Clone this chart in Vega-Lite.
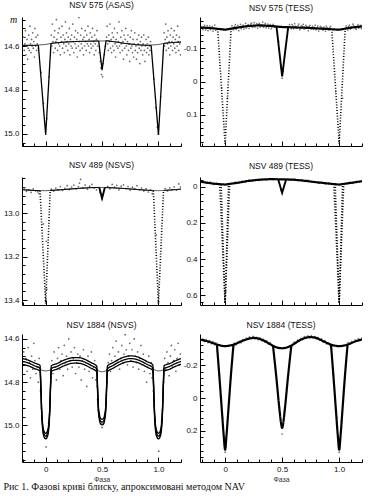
{
"$schema": "https://vega.github.io/schema/vega-lite/v6.json",
"padding": {"left": 3, "top": 0, "right": 0, "bottom": 0},
"background": "white",
"title": {"text": "Рис 1. Фазові криві блиску, апроксимовані методом NAV", "orient": "bottom", "anchor": "start", "font": "Liberation Serif", "fontSize": 10, "fontWeight": "normal", "color": "#111", "offset": 0},
"config": {
  "view": {"stroke": null},
  "axis": {"grid": false, "domainColor": "#000", "tickColor": "#000", "domainWidth": 1, "tickWidth": 1, "labelFont": "Liberation Sans", "labelFontSize": 8, "labelColor": "#111", "labelPadding": 8, "labelOverlap": false, "titleFont": "Liberation Sans", "titleFontSize": 7, "titleFontWeight": "normal", "titleColor": "#333", "titlePadding": 0},
  "title": {"font": "Liberation Sans", "fontSize": 8.5, "fontWeight": "normal", "color": "#111", "offset": 5}
},
"datasets": {
"p1pts": [
{"phase":-0.195,"mag":14.56},{"phase":-0.19,"mag":14.62},{"phase":-0.185,"mag":14.59},{"phase":-0.18,"mag":14.53},{"phase":-0.175,"mag":14.64},{"phase":-0.17,"mag":14.6},{"phase":-0.165,"mag":14.57},{"phase":-0.16,"mag":14.66},{"phase":-0.155,"mag":14.61},{"phase":-0.15,"mag":14.55},{"phase":-0.145,"mag":14.62},{"phase":-0.14,"mag":14.51},{"phase":-0.135,"mag":14.59},{"phase":-0.13,"mag":14.63},{"phase":-0.125,"mag":14.57},{"phase":-0.12,"mag":14.6},{"phase":-0.115,"mag":14.54},{"phase":-0.11,"mag":14.61},{"phase":-0.105,"mag":14.58},{"phase":-0.1,"mag":14.65},{"phase":-0.095,"mag":14.52},{"phase":-0.09,"mag":14.6},{"phase":-0.085,"mag":14.56},{"phase":-0.08,"mag":14.62},{"phase":-0.075,"mag":14.59},{"phase":-0.07,"mag":14.55},{"phase":-0.065,"mag":14.61},
{"phase":-0.04,"mag":14.72},{"phase":-0.02,"mag":14.86},{"phase":0.01,"mag":14.93},{"phase":0.03,"mag":14.74},
{"phase":0.05,"mag":14.55},{"phase":0.055,"mag":14.6},{"phase":0.06,"mag":14.5},{"phase":0.065,"mag":14.58},{"phase":0.07,"mag":14.63},{"phase":0.075,"mag":14.56},{"phase":0.08,"mag":14.53},{"phase":0.085,"mag":14.61},{"phase":0.09,"mag":14.58},{"phase":0.095,"mag":14.48},{"phase":0.1,"mag":14.57},{"phase":0.105,"mag":14.62},{"phase":0.11,"mag":14.54},{"phase":0.115,"mag":14.59},{"phase":0.12,"mag":14.52},{"phase":0.125,"mag":14.6},{"phase":0.13,"mag":14.64},{"phase":0.135,"mag":14.56},{"phase":0.14,"mag":14.58},{"phase":0.145,"mag":14.51},{"phase":0.15,"mag":14.61},{"phase":0.155,"mag":14.55},{"phase":0.16,"mag":14.59},{"phase":0.165,"mag":14.63},{"phase":0.17,"mag":14.57},{"phase":0.175,"mag":14.49},{"phase":0.18,"mag":14.6},{"phase":0.185,"mag":14.54},{"phase":0.19,"mag":14.58},{"phase":0.195,"mag":14.62},{"phase":0.2,"mag":14.56},{"phase":0.205,"mag":14.59},{"phase":0.21,"mag":14.52},{"phase":0.215,"mag":14.64},{"phase":0.22,"mag":14.57},{"phase":0.225,"mag":14.6},{"phase":0.23,"mag":14.55},{"phase":0.235,"mag":14.61},{"phase":0.24,"mag":14.5},{"phase":0.245,"mag":14.58},{"phase":0.25,"mag":14.63},{"phase":0.255,"mag":14.56},{"phase":0.26,"mag":14.59},{"phase":0.265,"mag":14.53},{"phase":0.27,"mag":14.61},{"phase":0.275,"mag":14.57},{"phase":0.28,"mag":14.65},{"phase":0.285,"mag":14.54},{"phase":0.29,"mag":14.6},{"phase":0.295,"mag":14.47},{"phase":0.3,"mag":14.58},{"phase":0.305,"mag":14.62},{"phase":0.31,"mag":14.55},{"phase":0.315,"mag":14.59},{"phase":0.32,"mag":14.52},{"phase":0.325,"mag":14.61},{"phase":0.33,"mag":14.57},{"phase":0.335,"mag":14.64},{"phase":0.34,"mag":14.56},{"phase":0.345,"mag":14.6},{"phase":0.35,"mag":14.53},{"phase":0.355,"mag":14.58},{"phase":0.36,"mag":14.62},{"phase":0.365,"mag":14.55},{"phase":0.37,"mag":14.59},{"phase":0.375,"mag":14.51},{"phase":0.38,"mag":14.6},{"phase":0.385,"mag":14.57},{"phase":0.39,"mag":14.63},{"phase":0.395,"mag":14.54},{"phase":0.4,"mag":14.59},{"phase":0.405,"mag":14.61},{"phase":0.41,"mag":14.56},{"phase":0.415,"mag":14.52},{"phase":0.42,"mag":14.6},{"phase":0.425,"mag":14.58},{"phase":0.43,"mag":14.64},{"phase":0.435,"mag":14.55},{"phase":0.44,"mag":14.59},{"phase":0.445,"mag":14.62},{"phase":0.45,"mag":14.57},{"phase":0.455,"mag":14.53},{"phase":0.46,"mag":14.6},
{"phase":0.475,"mag":14.63},{"phase":0.485,"mag":14.67},{"phase":0.49,"mag":14.7},{"phase":0.495,"mag":14.73},{"phase":0.5,"mag":14.69},{"phase":0.505,"mag":14.74},{"phase":0.51,"mag":14.68},{"phase":0.52,"mag":14.64},{"phase":0.53,"mag":14.6},
{"phase":0.54,"mag":14.56},{"phase":0.545,"mag":14.51},{"phase":0.55,"mag":14.59},{"phase":0.555,"mag":14.62},{"phase":0.56,"mag":14.55},{"phase":0.565,"mag":14.58},{"phase":0.57,"mag":14.5},{"phase":0.575,"mag":14.61},{"phase":0.58,"mag":14.57},{"phase":0.585,"mag":14.63},{"phase":0.59,"mag":14.54},{"phase":0.595,"mag":14.6},{"phase":0.6,"mag":14.56},{"phase":0.605,"mag":14.62},{"phase":0.61,"mag":14.52},{"phase":0.615,"mag":14.59},{"phase":0.62,"mag":14.65},{"phase":0.625,"mag":14.57},{"phase":0.63,"mag":14.6},{"phase":0.635,"mag":14.54},{"phase":0.64,"mag":14.61},{"phase":0.645,"mag":14.58},{"phase":0.65,"mag":14.49},{"phase":0.655,"mag":14.6},{"phase":0.66,"mag":14.63},{"phase":0.665,"mag":14.56},{"phase":0.67,"mag":14.59},{"phase":0.675,"mag":14.53},{"phase":0.68,"mag":14.62},{"phase":0.685,"mag":14.58},{"phase":0.69,"mag":14.66},{"phase":0.695,"mag":14.55},{"phase":0.7,"mag":14.61},{"phase":0.705,"mag":14.57},{"phase":0.71,"mag":14.52},{"phase":0.715,"mag":14.6},{"phase":0.72,"mag":14.64},{"phase":0.725,"mag":14.58},{"phase":0.73,"mag":14.55},{"phase":0.735,"mag":14.62},{"phase":0.74,"mag":14.59},{"phase":0.745,"mag":14.67},{"phase":0.75,"mag":14.56},{"phase":0.755,"mag":14.61},{"phase":0.76,"mag":14.53},{"phase":0.765,"mag":14.6},{"phase":0.77,"mag":14.63},{"phase":0.775,"mag":14.57},{"phase":0.78,"mag":14.65},{"phase":0.785,"mag":14.59},{"phase":0.79,"mag":14.54},{"phase":0.795,"mag":14.62},{"phase":0.8,"mag":14.6},{"phase":0.805,"mag":14.66},{"phase":0.81,"mag":14.57},{"phase":0.815,"mag":14.63},{"phase":0.82,"mag":14.59},{"phase":0.825,"mag":14.55},{"phase":0.83,"mag":14.61},{"phase":0.835,"mag":14.68},{"phase":0.84,"mag":14.58},{"phase":0.845,"mag":14.62},{"phase":0.85,"mag":14.56},{"phase":0.855,"mag":14.6},{"phase":0.86,"mag":14.64},{"phase":0.865,"mag":14.59},{"phase":0.87,"mag":14.55},{"phase":0.875,"mag":14.62},{"phase":0.88,"mag":14.67},{"phase":0.885,"mag":14.6},{"phase":0.89,"mag":14.57},{"phase":0.895,"mag":14.63},{"phase":0.9,"mag":14.59},{"phase":0.905,"mag":14.61},{"phase":0.91,"mag":14.56},{"phase":0.915,"mag":14.64},{"phase":0.92,"mag":14.6},{"phase":0.925,"mag":14.62},{"phase":0.93,"mag":14.58},
{"phase":0.96,"mag":14.75},{"phase":0.975,"mag":14.88},{"phase":0.99,"mag":14.97},{"phase":1.0,"mag":15.0},{"phase":1.02,"mag":14.83},
{"phase":1.05,"mag":14.54},{"phase":1.055,"mag":14.6},{"phase":1.06,"mag":14.57},{"phase":1.065,"mag":14.5},{"phase":1.07,"mag":14.62},{"phase":1.075,"mag":14.56},{"phase":1.08,"mag":14.59},{"phase":1.085,"mag":14.53},{"phase":1.09,"mag":14.61},{"phase":1.095,"mag":14.58},{"phase":1.1,"mag":14.64},{"phase":1.105,"mag":14.55},{"phase":1.11,"mag":14.6},{"phase":1.115,"mag":14.52},{"phase":1.12,"mag":14.58},{"phase":1.125,"mag":14.62},{"phase":1.13,"mag":14.56},{"phase":1.135,"mag":14.59},{"phase":1.14,"mag":14.53},{"phase":1.145,"mag":14.61},{"phase":1.15,"mag":14.57},{"phase":1.155,"mag":14.63},{"phase":1.16,"mag":14.55},{"phase":1.165,"mag":14.6},{"phase":1.17,"mag":14.51},{"phase":1.175,"mag":14.58},{"phase":1.18,"mag":14.62},{"phase":1.185,"mag":14.56},{"phase":1.19,"mag":14.59},{"phase":1.195,"mag":14.64}
],
"p1lines": [
{"seg":"base","kind":"thin","phase":-0.22,"mag":14.597},{"seg":"base","kind":"thin","phase":-0.1,"mag":14.597},{"seg":"base","kind":"thin","phase":0,"mag":14.593},{"seg":"base","kind":"thin","phase":0.05,"mag":14.588},{"seg":"base","kind":"thin","phase":0.1,"mag":14.585},{"seg":"base","kind":"thin","phase":0.2,"mag":14.581},{"seg":"base","kind":"thin","phase":0.3,"mag":14.579},{"seg":"base","kind":"thin","phase":0.4,"mag":14.578},{"seg":"base","kind":"thin","phase":0.5,"mag":14.577},{"seg":"base","kind":"thin","phase":0.55,"mag":14.576},{"seg":"base","kind":"thin","phase":0.6,"mag":14.58},{"seg":"base","kind":"thin","phase":0.7,"mag":14.588},{"seg":"base","kind":"thin","phase":0.8,"mag":14.594},{"seg":"base","kind":"thin","phase":0.9,"mag":14.597},{"seg":"base","kind":"thin","phase":1.0,"mag":14.593},{"seg":"base","kind":"thin","phase":1.05,"mag":14.588},{"seg":"base","kind":"thin","phase":1.1,"mag":14.585},{"seg":"base","kind":"thin","phase":1.2,"mag":14.582},
{"seg":"f1","kind":"thick","phase":-0.22,"mag":14.597},{"seg":"f1","kind":"thick","phase":-0.1,"mag":14.597},{"seg":"f1","kind":"thick","phase":-0.065,"mag":14.597},
{"seg":"f2","kind":"thick","phase":0.047,"mag":14.588},{"seg":"f2","kind":"thick","phase":0.1,"mag":14.585},{"seg":"f2","kind":"thick","phase":0.2,"mag":14.581},{"seg":"f2","kind":"thick","phase":0.3,"mag":14.579},{"seg":"f2","kind":"thick","phase":0.4,"mag":14.578},{"seg":"f2","kind":"thick","phase":0.47,"mag":14.577},
{"seg":"f3","kind":"thick","phase":0.535,"mag":14.576},{"seg":"f3","kind":"thick","phase":0.6,"mag":14.58},{"seg":"f3","kind":"thick","phase":0.7,"mag":14.588},{"seg":"f3","kind":"thick","phase":0.8,"mag":14.594},{"seg":"f3","kind":"thick","phase":0.9,"mag":14.597},{"seg":"f3","kind":"thick","phase":0.935,"mag":14.597},
{"seg":"f4","kind":"thick","phase":1.047,"mag":14.588},{"seg":"f4","kind":"thick","phase":1.1,"mag":14.585},{"seg":"f4","kind":"thick","phase":1.2,"mag":14.582},
{"seg":"e1","kind":"ecl","phase":-0.065,"mag":14.597},{"seg":"e1","kind":"ecl","phase":0,"mag":15.005},{"seg":"e1","kind":"ecl","phase":0.047,"mag":14.588},
{"seg":"e2","kind":"ecl","phase":0.47,"mag":14.577},{"seg":"e2","kind":"ecl","phase":0.5,"mag":14.71},{"seg":"e2","kind":"ecl","phase":0.535,"mag":14.576},
{"seg":"e3","kind":"ecl","phase":0.935,"mag":14.597},{"seg":"e3","kind":"ecl","phase":1.0,"mag":15.005},{"seg":"e3","kind":"ecl","phase":1.047,"mag":14.588}
],
"p2pts": [
{"phase":-0.195,"mag":-0.155},{"phase":-0.18,"mag":-0.168},{"phase":-0.165,"mag":-0.158},{"phase":-0.15,"mag":-0.152},{"phase":-0.135,"mag":-0.166},{"phase":-0.12,"mag":-0.161},{"phase":-0.105,"mag":-0.15},{"phase":-0.09,"mag":-0.169},{"phase":-0.075,"mag":-0.157},
{"phase":-0.187,"mag":-0.163},{"phase":-0.172,"mag":-0.154},{"phase":-0.157,"mag":-0.167},{"phase":-0.142,"mag":-0.159},{"phase":-0.127,"mag":-0.155},{"phase":-0.112,"mag":-0.165},{"phase":-0.097,"mag":-0.16},{"phase":-0.082,"mag":-0.153},
{"phase":-0.03,"mag":0.02},{"phase":0.0,"mag":0.18},{"phase":0.02,"mag":0.05},
{"phase":0.06,"mag":-0.167},{"phase":0.075,"mag":-0.155},{"phase":0.09,"mag":-0.17},{"phase":0.105,"mag":-0.16},{"phase":0.12,"mag":-0.152},{"phase":0.135,"mag":-0.171},{"phase":0.15,"mag":-0.163},{"phase":0.165,"mag":-0.157},{"phase":0.18,"mag":-0.174},{"phase":0.195,"mag":-0.166},{"phase":0.21,"mag":-0.159},{"phase":0.225,"mag":-0.172},{"phase":0.24,"mag":-0.162},{"phase":0.255,"mag":-0.176},{"phase":0.27,"mag":-0.168},{"phase":0.285,"mag":-0.16},{"phase":0.3,"mag":-0.174},{"phase":0.315,"mag":-0.165},{"phase":0.33,"mag":-0.178},{"phase":0.345,"mag":-0.169},{"phase":0.36,"mag":-0.161},{"phase":0.375,"mag":-0.172},{"phase":0.39,"mag":-0.165},{"phase":0.405,"mag":-0.158},{"phase":0.42,"mag":-0.171},{"phase":0.435,"mag":-0.163},
{"phase":0.067,"mag":-0.158},{"phase":0.082,"mag":-0.164},{"phase":0.097,"mag":-0.156},{"phase":0.112,"mag":-0.168},{"phase":0.127,"mag":-0.162},{"phase":0.142,"mag":-0.158},{"phase":0.157,"mag":-0.169},{"phase":0.172,"mag":-0.164},{"phase":0.187,"mag":-0.16},{"phase":0.202,"mag":-0.17},{"phase":0.217,"mag":-0.165},{"phase":0.232,"mag":-0.175},{"phase":0.247,"mag":-0.167},{"phase":0.262,"mag":-0.163},{"phase":0.277,"mag":-0.173},{"phase":0.292,"mag":-0.17},{"phase":0.307,"mag":-0.163},{"phase":0.322,"mag":-0.17},{"phase":0.337,"mag":-0.162},{"phase":0.352,"mag":-0.174},{"phase":0.367,"mag":-0.166},{"phase":0.382,"mag":-0.16},{"phase":0.397,"mag":-0.17},{"phase":0.412,"mag":-0.164},{"phase":0.427,"mag":-0.168},
{"phase":0.47,"mag":-0.12},{"phase":0.49,"mag":-0.04},{"phase":0.5,"mag":-0.01},{"phase":0.51,"mag":-0.03},{"phase":0.53,"mag":-0.1},
{"phase":0.565,"mag":-0.17},{"phase":0.58,"mag":-0.158},{"phase":0.595,"mag":-0.166},{"phase":0.61,"mag":-0.173},{"phase":0.625,"mag":-0.16},{"phase":0.64,"mag":-0.168},{"phase":0.655,"mag":-0.155},{"phase":0.67,"mag":-0.167},{"phase":0.685,"mag":-0.171},{"phase":0.7,"mag":-0.158},{"phase":0.715,"mag":-0.165},{"phase":0.73,"mag":-0.152},{"phase":0.745,"mag":-0.168},{"phase":0.76,"mag":-0.161},{"phase":0.775,"mag":-0.156},{"phase":0.79,"mag":-0.169},{"phase":0.805,"mag":-0.16},{"phase":0.82,"mag":-0.151},{"phase":0.835,"mag":-0.165},{"phase":0.85,"mag":-0.158},{"phase":0.865,"mag":-0.163},{"phase":0.88,"mag":-0.15},{"phase":0.895,"mag":-0.161},{"phase":0.91,"mag":-0.155},{"phase":0.925,"mag":-0.165},
{"phase":0.572,"mag":-0.163},{"phase":0.587,"mag":-0.17},{"phase":0.602,"mag":-0.158},{"phase":0.617,"mag":-0.165},{"phase":0.632,"mag":-0.161},{"phase":0.647,"mag":-0.172},{"phase":0.662,"mag":-0.16},{"phase":0.677,"mag":-0.164},{"phase":0.692,"mag":-0.157},{"phase":0.707,"mag":-0.168},{"phase":0.722,"mag":-0.161},{"phase":0.737,"mag":-0.165},{"phase":0.752,"mag":-0.157},{"phase":0.767,"mag":-0.166},{"phase":0.782,"mag":-0.162},{"phase":0.797,"mag":-0.155},{"phase":0.812,"mag":-0.166},{"phase":0.827,"mag":-0.159},{"phase":0.842,"mag":-0.163},{"phase":0.857,"mag":-0.154},{"phase":0.872,"mag":-0.16},{"phase":0.887,"mag":-0.166},{"phase":0.902,"mag":-0.157},{"phase":0.917,"mag":-0.161},
{"phase":0.97,"mag":0.03},{"phase":1.0,"mag":0.18},{"phase":1.03,"mag":0.05},
{"phase":1.06,"mag":-0.166},{"phase":1.075,"mag":-0.154},{"phase":1.09,"mag":-0.169},{"phase":1.105,"mag":-0.159},{"phase":1.12,"mag":-0.172},{"phase":1.135,"mag":-0.162},{"phase":1.15,"mag":-0.156},{"phase":1.165,"mag":-0.17},{"phase":1.18,"mag":-0.163},{"phase":1.195,"mag":-0.158},
{"phase":1.067,"mag":-0.16},{"phase":1.082,"mag":-0.165},{"phase":1.097,"mag":-0.157},{"phase":1.112,"mag":-0.164},{"phase":1.127,"mag":-0.168},{"phase":1.142,"mag":-0.158},{"phase":1.157,"mag":-0.165},{"phase":1.172,"mag":-0.16},{"phase":1.187,"mag":-0.168}
],
"p2lines": [
{"seg":"base","kind":"fit","phase":-0.22,"mag":-0.162},{"seg":"base","kind":"fit","phase":-0.1,"mag":-0.159},{"seg":"base","kind":"fit","phase":0,"mag":-0.155},{"seg":"base","kind":"fit","phase":0.1,"mag":-0.161},{"seg":"base","kind":"fit","phase":0.2,"mag":-0.166},{"seg":"base","kind":"fit","phase":0.3,"mag":-0.168},{"seg":"base","kind":"fit","phase":0.4,"mag":-0.166},{"seg":"base","kind":"fit","phase":0.5,"mag":-0.163},{"seg":"base","kind":"fit","phase":0.6,"mag":-0.162},{"seg":"base","kind":"fit","phase":0.7,"mag":-0.161},{"seg":"base","kind":"fit","phase":0.8,"mag":-0.159},{"seg":"base","kind":"fit","phase":0.9,"mag":-0.157},{"seg":"base","kind":"fit","phase":1.0,"mag":-0.155},{"seg":"base","kind":"fit","phase":1.1,"mag":-0.161},{"seg":"base","kind":"fit","phase":1.2,"mag":-0.165},
{"seg":"e1","kind":"dot","phase":-0.065,"mag":-0.158},{"seg":"e1","kind":"dot","phase":0,"mag":0.186},{"seg":"e1","kind":"dot","phase":0.053,"mag":-0.16},
{"seg":"e2","kind":"sec","phase":0.45,"mag":-0.166},{"seg":"e2","kind":"sec","phase":0.5,"mag":-0.015},{"seg":"e2","kind":"sec","phase":0.553,"mag":-0.163},
{"seg":"e3","kind":"dot","phase":0.935,"mag":-0.157},{"seg":"e3","kind":"dot","phase":1.0,"mag":0.186},{"seg":"e3","kind":"dot","phase":1.053,"mag":-0.16}
],
"p3pts": [
{"phase":-0.19,"mag":12.885},{"phase":-0.17,"mag":12.9},{"phase":-0.15,"mag":12.893},{"phase":-0.13,"mag":12.905},{"phase":-0.11,"mag":12.889},{"phase":-0.09,"mag":12.898},{"phase":-0.07,"mag":12.902},{"phase":-0.06,"mag":12.91},
{"phase":-0.02,"mag":13.05},{"phase":0.005,"mag":13.13},{"phase":0.01,"mag":13.35},{"phase":0.0,"mag":13.4},
{"phase":0.05,"mag":12.89},{"phase":0.07,"mag":12.899},{"phase":0.09,"mag":12.885},{"phase":0.11,"mag":12.893},{"phase":0.13,"mag":12.878},{"phase":0.15,"mag":12.896},{"phase":0.17,"mag":12.886},{"phase":0.19,"mag":12.874},{"phase":0.21,"mag":12.892},{"phase":0.23,"mag":12.88},{"phase":0.25,"mag":12.871},{"phase":0.27,"mag":12.889},{"phase":0.29,"mag":12.878},{"phase":0.3,"mag":12.862},{"phase":0.31,"mag":12.845},{"phase":0.33,"mag":12.884},{"phase":0.35,"mag":12.871},{"phase":0.37,"mag":12.89},{"phase":0.39,"mag":12.876},{"phase":0.41,"mag":12.868},{"phase":0.43,"mag":12.885},{"phase":0.45,"mag":12.893},
{"phase":0.48,"mag":12.905},{"phase":0.495,"mag":12.925},{"phase":0.5,"mag":12.935},{"phase":0.505,"mag":12.918},{"phase":0.52,"mag":12.895},
{"phase":0.55,"mag":12.877},{"phase":0.57,"mag":12.889},{"phase":0.59,"mag":12.868},{"phase":0.61,"mag":12.881},{"phase":0.63,"mag":12.872},{"phase":0.65,"mag":12.893},{"phase":0.67,"mag":12.876},{"phase":0.69,"mag":12.87},{"phase":0.71,"mag":12.887},{"phase":0.73,"mag":12.878},{"phase":0.75,"mag":12.895},{"phase":0.77,"mag":12.881},{"phase":0.79,"mag":12.889},{"phase":0.81,"mag":12.874},{"phase":0.83,"mag":12.893},{"phase":0.85,"mag":12.885},{"phase":0.87,"mag":12.898},{"phase":0.89,"mag":12.888},{"phase":0.91,"mag":12.903},{"phase":0.93,"mag":12.893},{"phase":0.945,"mag":12.91},
{"phase":0.98,"mag":13.1},{"phase":1.0,"mag":13.41},
{"phase":1.06,"mag":12.887},{"phase":1.08,"mag":12.898},{"phase":1.1,"mag":12.884},{"phase":1.12,"mag":12.892},{"phase":1.14,"mag":12.879},{"phase":1.16,"mag":12.895},{"phase":1.18,"mag":12.866},{"phase":1.195,"mag":12.88}
],
"p3lines": [
{"seg":"base","kind":"thin","phase":-0.22,"mag":12.892},{"seg":"base","kind":"thin","phase":-0.1,"mag":12.896},{"seg":"base","kind":"thin","phase":0,"mag":12.897},{"seg":"base","kind":"thin","phase":0.1,"mag":12.894},{"seg":"base","kind":"thin","phase":0.2,"mag":12.89},{"seg":"base","kind":"thin","phase":0.3,"mag":12.886},{"seg":"base","kind":"thin","phase":0.4,"mag":12.883},{"seg":"base","kind":"thin","phase":0.5,"mag":12.882},{"seg":"base","kind":"thin","phase":0.6,"mag":12.884},{"seg":"base","kind":"thin","phase":0.7,"mag":12.887},{"seg":"base","kind":"thin","phase":0.8,"mag":12.891},{"seg":"base","kind":"thin","phase":0.9,"mag":12.895},{"seg":"base","kind":"thin","phase":1.0,"mag":12.897},{"seg":"base","kind":"thin","phase":1.1,"mag":12.894},{"seg":"base","kind":"thin","phase":1.2,"mag":12.89},
{"seg":"f1","kind":"thick","phase":-0.22,"mag":12.892},{"seg":"f1","kind":"thick","phase":-0.1,"mag":12.896},{"seg":"f1","kind":"thick","phase":-0.05,"mag":12.897},
{"seg":"f2","kind":"thick","phase":0.04,"mag":12.896},{"seg":"f2","kind":"thick","phase":0.1,"mag":12.894},{"seg":"f2","kind":"thick","phase":0.2,"mag":12.89},{"seg":"f2","kind":"thick","phase":0.3,"mag":12.886},{"seg":"f2","kind":"thick","phase":0.4,"mag":12.883},{"seg":"f2","kind":"thick","phase":0.475,"mag":12.882},
{"seg":"f3","kind":"thick","phase":0.525,"mag":12.882},{"seg":"f3","kind":"thick","phase":0.6,"mag":12.884},{"seg":"f3","kind":"thick","phase":0.7,"mag":12.887},{"seg":"f3","kind":"thick","phase":0.8,"mag":12.891},{"seg":"f3","kind":"thick","phase":0.9,"mag":12.895},{"seg":"f3","kind":"thick","phase":0.955,"mag":12.897},
{"seg":"f4","kind":"thick","phase":1.045,"mag":12.896},{"seg":"f4","kind":"thick","phase":1.1,"mag":12.894},{"seg":"f4","kind":"thick","phase":1.2,"mag":12.89},
{"seg":"e1","kind":"dot","phase":-0.05,"mag":12.897},{"seg":"e1","kind":"dot","phase":0,"mag":13.417},{"seg":"e1","kind":"dot","phase":0.04,"mag":12.896},
{"seg":"e2","kind":"sec","phase":0.475,"mag":12.882},{"seg":"e2","kind":"sec","phase":0.5,"mag":12.932},{"seg":"e2","kind":"sec","phase":0.525,"mag":12.882},
{"seg":"e3","kind":"dot","phase":0.955,"mag":12.897},{"seg":"e3","kind":"dot","phase":1.0,"mag":13.417},{"seg":"e3","kind":"dot","phase":1.045,"mag":12.896}
],
"p4pts": [
{"phase":-0.19,"mag":-0.03},{"phase":-0.16,"mag":-0.022},{"phase":-0.13,"mag":-0.026},{"phase":-0.1,"mag":-0.014},{"phase":-0.07,"mag":-0.02},{"phase":0.06,"mag":-0.02},{"phase":0.09,"mag":-0.027},{"phase":0.12,"mag":-0.022},{"phase":0.15,"mag":-0.031},{"phase":0.18,"mag":-0.028},{"phase":0.21,"mag":-0.038},{"phase":0.24,"mag":-0.033},{"phase":0.27,"mag":-0.041},{"phase":0.3,"mag":-0.036},{"phase":0.33,"mag":-0.045},{"phase":0.36,"mag":-0.04},{"phase":0.39,"mag":-0.046},{"phase":0.42,"mag":-0.041},{"phase":0.45,"mag":-0.045},{"phase":0.49,"mag":0.02},{"phase":0.5,"mag":0.035},{"phase":0.51,"mag":0.015},{"phase":0.55,"mag":-0.045},{"phase":0.58,"mag":-0.038},{"phase":0.61,"mag":-0.043},{"phase":0.64,"mag":-0.036},{"phase":0.67,"mag":-0.039},{"phase":0.7,"mag":-0.031},{"phase":0.73,"mag":-0.036},{"phase":0.76,"mag":-0.027},{"phase":0.79,"mag":-0.03},{"phase":0.82,"mag":-0.021},{"phase":0.85,"mag":-0.026},{"phase":0.88,"mag":-0.017},{"phase":0.91,"mag":-0.023},{"phase":0.94,"mag":-0.014},{"phase":1.06,"mag":-0.02},{"phase":1.09,"mag":-0.025},{"phase":1.12,"mag":-0.02},{"phase":1.15,"mag":-0.029},{"phase":1.18,"mag":-0.026},{"phase":1.0,"mag":0.62},{"phase":0.0,"mag":0.62},{"phase":0.005,"mag":0.58},{"phase":0.995,"mag":0.58}
],
"p4lines": [
{"seg":"base","kind":"fit","phase":-0.22,"mag":-0.029},{"seg":"base","kind":"fit","phase":-0.1,"mag":-0.018},{"seg":"base","kind":"fit","phase":0,"mag":-0.013},{"seg":"base","kind":"fit","phase":0.1,"mag":-0.022},{"seg":"base","kind":"fit","phase":0.2,"mag":-0.033},{"seg":"base","kind":"fit","phase":0.3,"mag":-0.04},{"seg":"base","kind":"fit","phase":0.4,"mag":-0.043},{"seg":"base","kind":"fit","phase":0.5,"mag":-0.042},{"seg":"base","kind":"fit","phase":0.6,"mag":-0.04},{"seg":"base","kind":"fit","phase":0.7,"mag":-0.034},{"seg":"base","kind":"fit","phase":0.8,"mag":-0.026},{"seg":"base","kind":"fit","phase":0.9,"mag":-0.019},{"seg":"base","kind":"fit","phase":1.0,"mag":-0.013},{"seg":"base","kind":"fit","phase":1.1,"mag":-0.022},{"seg":"base","kind":"fit","phase":1.2,"mag":-0.032},
{"seg":"e1a","kind":"dot","phase":-0.047,"mag":-0.015},{"seg":"e1a","kind":"dot","phase":0,"mag":0.645},{"seg":"e1a","kind":"dot","phase":0.04,"mag":-0.016},
{"seg":"e1b","kind":"dot","phase":-0.035,"mag":-0.014},{"seg":"e1b","kind":"dot","phase":0,"mag":0.645},{"seg":"e1b","kind":"dot","phase":0.03,"mag":-0.015},
{"seg":"e2","kind":"sec","phase":0.465,"mag":-0.042},{"seg":"e2","kind":"sec","phase":0.5,"mag":0.033},{"seg":"e2","kind":"sec","phase":0.535,"mag":-0.042},
{"seg":"e3a","kind":"dot","phase":0.953,"mag":-0.016},{"seg":"e3a","kind":"dot","phase":1.0,"mag":0.645},{"seg":"e3a","kind":"dot","phase":1.04,"mag":-0.016},
{"seg":"e3b","kind":"dot","phase":0.965,"mag":-0.015},{"seg":"e3b","kind":"dot","phase":1.0,"mag":0.645},{"seg":"e3b","kind":"dot","phase":1.03,"mag":-0.015}
],
"p5pts": [
{"phase":-0.195,"mag":14.66},{"phase":-0.185,"mag":14.72},{"phase":-0.175,"mag":14.69},{"phase":-0.165,"mag":14.75},{"phase":-0.155,"mag":14.64},{"phase":-0.145,"mag":14.71},{"phase":-0.135,"mag":14.78},{"phase":-0.125,"mag":14.68},{"phase":-0.115,"mag":14.74},{"phase":-0.105,"mag":14.62},{"phase":-0.095,"mag":14.7},{"phase":-0.085,"mag":14.76},{"phase":-0.075,"mag":14.73},{"phase":-0.065,"mag":14.8},{"phase":-0.058,"mag":14.69},
{"phase":-0.047,"mag":14.84},{"phase":-0.04,"mag":14.92},{"phase":-0.032,"mag":14.97},{"phase":-0.025,"mag":15.02},{"phase":-0.015,"mag":15.04},{"phase":-0.005,"mag":15.06},{"phase":0.003,"mag":15.1},{"phase":0.008,"mag":15.05},{"phase":0.018,"mag":15.03},{"phase":0.026,"mag":14.99},{"phase":0.034,"mag":14.95},{"phase":0.04,"mag":14.88},{"phase":0.046,"mag":14.8},
{"phase":0.055,"mag":14.7},{"phase":0.065,"mag":14.76},{"phase":0.075,"mag":14.66},{"phase":0.085,"mag":14.73},{"phase":0.095,"mag":14.79},{"phase":0.105,"mag":14.69},{"phase":0.115,"mag":14.64},{"phase":0.125,"mag":14.74},{"phase":0.135,"mag":14.7},{"phase":0.145,"mag":14.67},{"phase":0.155,"mag":14.77},{"phase":0.165,"mag":14.63},{"phase":0.175,"mag":14.71},{"phase":0.185,"mag":14.68},{"phase":0.195,"mag":14.74},{"phase":0.205,"mag":14.6},{"phase":0.215,"mag":14.7},{"phase":0.225,"mag":14.66},{"phase":0.235,"mag":14.73},{"phase":0.245,"mag":14.69},{"phase":0.255,"mag":14.64},{"phase":0.265,"mag":14.76},{"phase":0.275,"mag":14.71},{"phase":0.285,"mag":14.67},{"phase":0.295,"mag":14.73},{"phase":0.305,"mag":14.68},{"phase":0.315,"mag":14.79},{"phase":0.325,"mag":14.7},{"phase":0.335,"mag":14.65},{"phase":0.345,"mag":14.74},{"phase":0.355,"mag":14.71},{"phase":0.365,"mag":14.82},{"phase":0.375,"mag":14.68},{"phase":0.385,"mag":14.75},{"phase":0.395,"mag":14.72},{"phase":0.405,"mag":14.66},{"phase":0.415,"mag":14.78},{"phase":0.425,"mag":14.73},{"phase":0.435,"mag":14.7},{"phase":0.445,"mag":14.79},
{"phase":0.455,"mag":14.82},{"phase":0.46,"mag":14.88},{"phase":0.466,"mag":14.93},{"phase":0.472,"mag":14.96},{"phase":0.48,"mag":14.98},{"phase":0.49,"mag":14.99},{"phase":0.5,"mag":15.01},{"phase":0.51,"mag":14.99},{"phase":0.52,"mag":14.97},{"phase":0.528,"mag":14.95},{"phase":0.534,"mag":14.9},{"phase":0.54,"mag":14.86},{"phase":0.545,"mag":14.8},
{"phase":0.555,"mag":14.71},{"phase":0.565,"mag":14.67},{"phase":0.575,"mag":14.75},{"phase":0.585,"mag":14.7},{"phase":0.595,"mag":14.64},{"phase":0.605,"mag":14.72},{"phase":0.615,"mag":14.68},{"phase":0.625,"mag":14.61},{"phase":0.635,"mag":14.7},{"phase":0.645,"mag":14.66},{"phase":0.655,"mag":14.74},{"phase":0.665,"mag":14.69},{"phase":0.675,"mag":14.63},{"phase":0.685,"mag":14.71},{"phase":0.695,"mag":14.67},{"phase":0.705,"mag":14.58},{"phase":0.715,"mag":14.65},{"phase":0.725,"mag":14.72},{"phase":0.735,"mag":14.68},{"phase":0.745,"mag":14.62},{"phase":0.755,"mag":14.7},{"phase":0.765,"mag":14.65},{"phase":0.775,"mag":14.73},{"phase":0.785,"mag":14.6},{"phase":0.795,"mag":14.68},{"phase":0.805,"mag":14.71},{"phase":0.815,"mag":14.66},{"phase":0.825,"mag":14.74},{"phase":0.835,"mag":14.69},{"phase":0.845,"mag":14.63},{"phase":0.855,"mag":14.72},{"phase":0.865,"mag":14.67},{"phase":0.875,"mag":14.75},{"phase":0.885,"mag":14.7},{"phase":0.895,"mag":14.8},{"phase":0.905,"mag":14.73},{"phase":0.915,"mag":14.68},{"phase":0.925,"mag":14.76},{"phase":0.935,"mag":14.71},{"phase":0.943,"mag":14.78},
{"phase":0.953,"mag":14.84},{"phase":0.96,"mag":14.91},{"phase":0.968,"mag":14.97},{"phase":0.975,"mag":15.01},{"phase":0.985,"mag":15.04},{"phase":0.995,"mag":15.06},{"phase":1.003,"mag":15.12},{"phase":1.01,"mag":15.05},{"phase":1.02,"mag":15.02},{"phase":1.028,"mag":14.98},{"phase":1.035,"mag":14.93},{"phase":1.042,"mag":14.87},{"phase":1.047,"mag":14.8},
{"phase":1.055,"mag":14.69},{"phase":1.065,"mag":14.74},{"phase":1.075,"mag":14.66},{"phase":1.085,"mag":14.71},{"phase":1.095,"mag":14.77},{"phase":1.105,"mag":14.68},{"phase":1.115,"mag":14.63},{"phase":1.125,"mag":14.73},{"phase":1.135,"mag":14.7},{"phase":1.145,"mag":14.65},{"phase":1.155,"mag":14.75},{"phase":1.165,"mag":14.69},{"phase":1.175,"mag":14.62},{"phase":1.185,"mag":14.72},{"phase":1.195,"mag":14.67}
],
"p5lines": [
{"seg":"M","kind":"ecl","phase":-0.22,"mag":14.703},{"seg":"M","kind":"ecl","phase":-0.15,"mag":14.712},{"seg":"M","kind":"ecl","phase":-0.1,"mag":14.724},{"seg":"M","kind":"ecl","phase":-0.05,"mag":14.736},{"seg":"M","kind":"ecl","phase":-0.043,"mag":14.82},{"seg":"M","kind":"ecl","phase":-0.036,"mag":14.93},{"seg":"M","kind":"ecl","phase":-0.028,"mag":15.0},{"seg":"M","kind":"ecl","phase":-0.015,"mag":15.04},{"seg":"M","kind":"ecl","phase":0,"mag":15.05},{"seg":"M","kind":"ecl","phase":0.015,"mag":15.04},{"seg":"M","kind":"ecl","phase":0.028,"mag":15.0},{"seg":"M","kind":"ecl","phase":0.036,"mag":14.93},{"seg":"M","kind":"ecl","phase":0.043,"mag":14.82},{"seg":"M","kind":"ecl","phase":0.05,"mag":14.737},{"seg":"M","kind":"ecl","phase":0.1,"mag":14.727},{"seg":"M","kind":"ecl","phase":0.15,"mag":14.714},{"seg":"M","kind":"ecl","phase":0.2,"mag":14.704},{"seg":"M","kind":"ecl","phase":0.25,"mag":14.699},{"seg":"M","kind":"ecl","phase":0.3,"mag":14.7},{"seg":"M","kind":"ecl","phase":0.35,"mag":14.708},{"seg":"M","kind":"ecl","phase":0.4,"mag":14.722},{"seg":"M","kind":"ecl","phase":0.453,"mag":14.739},{"seg":"M","kind":"ecl","phase":0.46,"mag":14.83},{"seg":"M","kind":"ecl","phase":0.467,"mag":14.92},{"seg":"M","kind":"ecl","phase":0.476,"mag":14.96},{"seg":"M","kind":"ecl","phase":0.487,"mag":14.981},{"seg":"M","kind":"ecl","phase":0.5,"mag":14.985},{"seg":"M","kind":"ecl","phase":0.513,"mag":14.981},{"seg":"M","kind":"ecl","phase":0.524,"mag":14.96},{"seg":"M","kind":"ecl","phase":0.533,"mag":14.92},{"seg":"M","kind":"ecl","phase":0.54,"mag":14.83},{"seg":"M","kind":"ecl","phase":0.547,"mag":14.739},{"seg":"M","kind":"ecl","phase":0.6,"mag":14.722},{"seg":"M","kind":"ecl","phase":0.65,"mag":14.707},{"seg":"M","kind":"ecl","phase":0.7,"mag":14.696},{"seg":"M","kind":"ecl","phase":0.75,"mag":14.691},{"seg":"M","kind":"ecl","phase":0.8,"mag":14.694},{"seg":"M","kind":"ecl","phase":0.85,"mag":14.704},{"seg":"M","kind":"ecl","phase":0.9,"mag":14.718},{"seg":"M","kind":"ecl","phase":0.95,"mag":14.733},{"seg":"M","kind":"ecl","phase":0.957,"mag":14.82},{"seg":"M","kind":"ecl","phase":0.964,"mag":14.93},{"seg":"M","kind":"ecl","phase":0.972,"mag":15.0},{"seg":"M","kind":"ecl","phase":0.985,"mag":15.04},{"seg":"M","kind":"ecl","phase":1.0,"mag":15.05},{"seg":"M","kind":"ecl","phase":1.015,"mag":15.04},{"seg":"M","kind":"ecl","phase":1.028,"mag":15.0},{"seg":"M","kind":"ecl","phase":1.036,"mag":14.93},{"seg":"M","kind":"ecl","phase":1.043,"mag":14.82},{"seg":"M","kind":"ecl","phase":1.05,"mag":14.737},{"seg":"M","kind":"ecl","phase":1.1,"mag":14.727},{"seg":"M","kind":"ecl","phase":1.15,"mag":14.714},{"seg":"M","kind":"ecl","phase":1.2,"mag":14.704},
{"seg":"U","kind":"ecl","phase":-0.22,"mag":14.69},{"seg":"U","kind":"ecl","phase":-0.15,"mag":14.699},{"seg":"U","kind":"ecl","phase":-0.1,"mag":14.711},{"seg":"U","kind":"ecl","phase":-0.05,"mag":14.723},{"seg":"U","kind":"ecl","phase":-0.043,"mag":14.807},{"seg":"U","kind":"ecl","phase":-0.036,"mag":14.917},{"seg":"U","kind":"ecl","phase":-0.028,"mag":14.987},{"seg":"U","kind":"ecl","phase":-0.015,"mag":15.027},{"seg":"U","kind":"ecl","phase":0,"mag":15.037},{"seg":"U","kind":"ecl","phase":0.015,"mag":15.027},{"seg":"U","kind":"ecl","phase":0.028,"mag":14.987},{"seg":"U","kind":"ecl","phase":0.036,"mag":14.917},{"seg":"U","kind":"ecl","phase":0.043,"mag":14.807},{"seg":"U","kind":"ecl","phase":0.05,"mag":14.724},{"seg":"U","kind":"ecl","phase":0.1,"mag":14.714},{"seg":"U","kind":"ecl","phase":0.15,"mag":14.701},{"seg":"U","kind":"ecl","phase":0.2,"mag":14.691},{"seg":"U","kind":"ecl","phase":0.25,"mag":14.686},{"seg":"U","kind":"ecl","phase":0.3,"mag":14.687},{"seg":"U","kind":"ecl","phase":0.35,"mag":14.695},{"seg":"U","kind":"ecl","phase":0.4,"mag":14.709},{"seg":"U","kind":"ecl","phase":0.453,"mag":14.726},{"seg":"U","kind":"ecl","phase":0.46,"mag":14.817},{"seg":"U","kind":"ecl","phase":0.467,"mag":14.907},{"seg":"U","kind":"ecl","phase":0.476,"mag":14.947},{"seg":"U","kind":"ecl","phase":0.487,"mag":14.968},{"seg":"U","kind":"ecl","phase":0.5,"mag":14.972},{"seg":"U","kind":"ecl","phase":0.513,"mag":14.968},{"seg":"U","kind":"ecl","phase":0.524,"mag":14.947},{"seg":"U","kind":"ecl","phase":0.533,"mag":14.907},{"seg":"U","kind":"ecl","phase":0.54,"mag":14.817},{"seg":"U","kind":"ecl","phase":0.547,"mag":14.726},{"seg":"U","kind":"ecl","phase":0.6,"mag":14.709},{"seg":"U","kind":"ecl","phase":0.65,"mag":14.694},{"seg":"U","kind":"ecl","phase":0.7,"mag":14.683},{"seg":"U","kind":"ecl","phase":0.75,"mag":14.678},{"seg":"U","kind":"ecl","phase":0.8,"mag":14.681},{"seg":"U","kind":"ecl","phase":0.85,"mag":14.691},{"seg":"U","kind":"ecl","phase":0.9,"mag":14.705},{"seg":"U","kind":"ecl","phase":0.95,"mag":14.72},{"seg":"U","kind":"ecl","phase":0.957,"mag":14.807},{"seg":"U","kind":"ecl","phase":0.964,"mag":14.917},{"seg":"U","kind":"ecl","phase":0.972,"mag":14.987},{"seg":"U","kind":"ecl","phase":0.985,"mag":15.027},{"seg":"U","kind":"ecl","phase":1.0,"mag":15.037},{"seg":"U","kind":"ecl","phase":1.015,"mag":15.027},{"seg":"U","kind":"ecl","phase":1.028,"mag":14.987},{"seg":"U","kind":"ecl","phase":1.036,"mag":14.917},{"seg":"U","kind":"ecl","phase":1.043,"mag":14.807},{"seg":"U","kind":"ecl","phase":1.05,"mag":14.724},{"seg":"U","kind":"ecl","phase":1.1,"mag":14.714},{"seg":"U","kind":"ecl","phase":1.15,"mag":14.701},{"seg":"U","kind":"ecl","phase":1.2,"mag":14.691},
{"seg":"L","kind":"ecl","phase":-0.22,"mag":14.716},{"seg":"L","kind":"ecl","phase":-0.15,"mag":14.725},{"seg":"L","kind":"ecl","phase":-0.1,"mag":14.737},{"seg":"L","kind":"ecl","phase":-0.05,"mag":14.749},{"seg":"L","kind":"ecl","phase":-0.043,"mag":14.833},{"seg":"L","kind":"ecl","phase":-0.036,"mag":14.943},{"seg":"L","kind":"ecl","phase":-0.028,"mag":15.013},{"seg":"L","kind":"ecl","phase":-0.015,"mag":15.053},{"seg":"L","kind":"ecl","phase":0,"mag":15.063},{"seg":"L","kind":"ecl","phase":0.015,"mag":15.053},{"seg":"L","kind":"ecl","phase":0.028,"mag":15.013},{"seg":"L","kind":"ecl","phase":0.036,"mag":14.943},{"seg":"L","kind":"ecl","phase":0.043,"mag":14.833},{"seg":"L","kind":"ecl","phase":0.05,"mag":14.75},{"seg":"L","kind":"ecl","phase":0.1,"mag":14.74},{"seg":"L","kind":"ecl","phase":0.15,"mag":14.727},{"seg":"L","kind":"ecl","phase":0.2,"mag":14.717},{"seg":"L","kind":"ecl","phase":0.25,"mag":14.712},{"seg":"L","kind":"ecl","phase":0.3,"mag":14.713},{"seg":"L","kind":"ecl","phase":0.35,"mag":14.721},{"seg":"L","kind":"ecl","phase":0.4,"mag":14.735},{"seg":"L","kind":"ecl","phase":0.453,"mag":14.752},{"seg":"L","kind":"ecl","phase":0.46,"mag":14.843},{"seg":"L","kind":"ecl","phase":0.467,"mag":14.933},{"seg":"L","kind":"ecl","phase":0.476,"mag":14.973},{"seg":"L","kind":"ecl","phase":0.487,"mag":14.994},{"seg":"L","kind":"ecl","phase":0.5,"mag":14.998},{"seg":"L","kind":"ecl","phase":0.513,"mag":14.994},{"seg":"L","kind":"ecl","phase":0.524,"mag":14.973},{"seg":"L","kind":"ecl","phase":0.533,"mag":14.933},{"seg":"L","kind":"ecl","phase":0.54,"mag":14.843},{"seg":"L","kind":"ecl","phase":0.547,"mag":14.752},{"seg":"L","kind":"ecl","phase":0.6,"mag":14.735},{"seg":"L","kind":"ecl","phase":0.65,"mag":14.72},{"seg":"L","kind":"ecl","phase":0.7,"mag":14.709},{"seg":"L","kind":"ecl","phase":0.75,"mag":14.704},{"seg":"L","kind":"ecl","phase":0.8,"mag":14.707},{"seg":"L","kind":"ecl","phase":0.85,"mag":14.717},{"seg":"L","kind":"ecl","phase":0.9,"mag":14.731},{"seg":"L","kind":"ecl","phase":0.95,"mag":14.746},{"seg":"L","kind":"ecl","phase":0.957,"mag":14.833},{"seg":"L","kind":"ecl","phase":0.964,"mag":14.943},{"seg":"L","kind":"ecl","phase":0.972,"mag":15.013},{"seg":"L","kind":"ecl","phase":0.985,"mag":15.053},{"seg":"L","kind":"ecl","phase":1.0,"mag":15.063},{"seg":"L","kind":"ecl","phase":1.015,"mag":15.053},{"seg":"L","kind":"ecl","phase":1.028,"mag":15.013},{"seg":"L","kind":"ecl","phase":1.036,"mag":14.943},{"seg":"L","kind":"ecl","phase":1.043,"mag":14.833},{"seg":"L","kind":"ecl","phase":1.05,"mag":14.75},{"seg":"L","kind":"ecl","phase":1.1,"mag":14.74},{"seg":"L","kind":"ecl","phase":1.15,"mag":14.727},{"seg":"L","kind":"ecl","phase":1.2,"mag":14.717},
{"seg":"a1","kind":"thin","phase":-0.05,"mag":14.741},{"seg":"a1","kind":"thin","phase":0,"mag":14.748},{"seg":"a1","kind":"thin","phase":0.05,"mag":14.742},
{"seg":"a2","kind":"thin","phase":0.453,"mag":14.744},{"seg":"a2","kind":"thin","phase":0.5,"mag":14.752},{"seg":"a2","kind":"thin","phase":0.547,"mag":14.744},
{"seg":"a3","kind":"thin","phase":0.95,"mag":14.738},{"seg":"a3","kind":"thin","phase":1.0,"mag":14.748},{"seg":"a3","kind":"thin","phase":1.05,"mag":14.742}
],
"p6pts": [
{"phase":-0.195,"mag":-0.36},{"phase":-0.18,"mag":-0.345},{"phase":-0.165,"mag":-0.356},{"phase":-0.15,"mag":-0.338},{"phase":-0.135,"mag":-0.349},{"phase":-0.12,"mag":-0.331},{"phase":-0.105,"mag":-0.343},{"phase":-0.09,"mag":-0.325},{"phase":-0.08,"mag":-0.336},
{"phase":-0.05,"mag":-0.14},{"phase":-0.02,"mag":0.12},{"phase":-0.005,"mag":0.28},{"phase":0.0,"mag":0.33},{"phase":0.005,"mag":0.3},{"phase":0.02,"mag":0.14},{"phase":0.05,"mag":-0.12},
{"phase":0.08,"mag":-0.335},{"phase":0.095,"mag":-0.324},{"phase":0.11,"mag":-0.34},{"phase":0.125,"mag":-0.345},{"phase":0.14,"mag":-0.337},{"phase":0.155,"mag":-0.356},{"phase":0.17,"mag":-0.35},{"phase":0.185,"mag":-0.365},{"phase":0.2,"mag":-0.357},{"phase":0.215,"mag":-0.372},{"phase":0.23,"mag":-0.362},{"phase":0.245,"mag":-0.375},{"phase":0.26,"mag":-0.36},{"phase":0.275,"mag":-0.37},{"phase":0.29,"mag":-0.355},{"phase":0.305,"mag":-0.366},{"phase":0.32,"mag":-0.349},{"phase":0.335,"mag":-0.357},{"phase":0.35,"mag":-0.34},{"phase":0.365,"mag":-0.348},{"phase":0.38,"mag":-0.329},{"phase":0.395,"mag":-0.336},{"phase":0.41,"mag":-0.318},
{"phase":0.44,"mag":-0.2},{"phase":0.47,"mag":0.02},{"phase":0.49,"mag":0.15},{"phase":0.5,"mag":0.22},{"phase":0.505,"mag":0.17},{"phase":0.52,"mag":0.08},{"phase":0.55,"mag":-0.13},
{"phase":0.59,"mag":-0.318},{"phase":0.605,"mag":-0.34},{"phase":0.62,"mag":-0.333},{"phase":0.635,"mag":-0.352},{"phase":0.65,"mag":-0.347},{"phase":0.665,"mag":-0.363},{"phase":0.68,"mag":-0.356},{"phase":0.695,"mag":-0.374},{"phase":0.71,"mag":-0.365},{"phase":0.725,"mag":-0.378},{"phase":0.74,"mag":-0.368},{"phase":0.755,"mag":-0.38},{"phase":0.77,"mag":-0.366},{"phase":0.785,"mag":-0.374},{"phase":0.8,"mag":-0.36},{"phase":0.815,"mag":-0.368},{"phase":0.83,"mag":-0.352},{"phase":0.845,"mag":-0.36},{"phase":0.86,"mag":-0.341},{"phase":0.875,"mag":-0.349},{"phase":0.89,"mag":-0.33},{"phase":0.905,"mag":-0.338},{"phase":0.92,"mag":-0.322},
{"phase":0.95,"mag":-0.14},{"phase":0.98,"mag":0.12},{"phase":0.995,"mag":0.28},{"phase":1.0,"mag":0.33},{"phase":1.005,"mag":0.3},{"phase":1.02,"mag":0.14},{"phase":1.05,"mag":-0.12},
{"phase":1.08,"mag":-0.337},{"phase":1.095,"mag":-0.328},{"phase":1.11,"mag":-0.345},{"phase":1.125,"mag":-0.341},{"phase":1.14,"mag":-0.354},{"phase":1.155,"mag":-0.348},{"phase":1.17,"mag":-0.362},{"phase":1.185,"mag":-0.355},{"phase":1.2,"mag":-0.366}
],
"p6lines": [
{"seg":"base","kind":"fit","phase":-0.22,"mag":-0.356},{"seg":"base","kind":"fit","phase":-0.15,"mag":-0.345},{"seg":"base","kind":"fit","phase":-0.1,"mag":-0.333},{"seg":"base","kind":"fit","phase":-0.05,"mag":-0.322},{"seg":"base","kind":"fit","phase":0,"mag":-0.316},{"seg":"base","kind":"fit","phase":0.05,"mag":-0.321},{"seg":"base","kind":"fit","phase":0.1,"mag":-0.332},{"seg":"base","kind":"fit","phase":0.15,"mag":-0.348},{"seg":"base","kind":"fit","phase":0.2,"mag":-0.36},{"seg":"base","kind":"fit","phase":0.25,"mag":-0.366},{"seg":"base","kind":"fit","phase":0.3,"mag":-0.361},{"seg":"base","kind":"fit","phase":0.35,"mag":-0.346},{"seg":"base","kind":"fit","phase":0.4,"mag":-0.326},{"seg":"base","kind":"fit","phase":0.45,"mag":-0.309},{"seg":"base","kind":"fit","phase":0.5,"mag":-0.303},{"seg":"base","kind":"fit","phase":0.55,"mag":-0.31},{"seg":"base","kind":"fit","phase":0.6,"mag":-0.328},{"seg":"base","kind":"fit","phase":0.65,"mag":-0.35},{"seg":"base","kind":"fit","phase":0.7,"mag":-0.366},{"seg":"base","kind":"fit","phase":0.75,"mag":-0.371},{"seg":"base","kind":"fit","phase":0.8,"mag":-0.366},{"seg":"base","kind":"fit","phase":0.85,"mag":-0.35},{"seg":"base","kind":"fit","phase":0.9,"mag":-0.333},{"seg":"base","kind":"fit","phase":0.95,"mag":-0.321},{"seg":"base","kind":"fit","phase":1.0,"mag":-0.316},{"seg":"base","kind":"fit","phase":1.05,"mag":-0.321},{"seg":"base","kind":"fit","phase":1.1,"mag":-0.333},{"seg":"base","kind":"fit","phase":1.15,"mag":-0.347},{"seg":"base","kind":"fit","phase":1.2,"mag":-0.357},
{"seg":"e1","kind":"fit","phase":-0.072,"mag":-0.327},{"seg":"e1","kind":"fit","phase":-0.05,"mag":-0.13},{"seg":"e1","kind":"fit","phase":-0.03,"mag":0.06},{"seg":"e1","kind":"fit","phase":-0.012,"mag":0.23},{"seg":"e1","kind":"fit","phase":0,"mag":0.315},{"seg":"e1","kind":"fit","phase":0.012,"mag":0.23},{"seg":"e1","kind":"fit","phase":0.03,"mag":0.06},{"seg":"e1","kind":"fit","phase":0.05,"mag":-0.13},{"seg":"e1","kind":"fit","phase":0.074,"mag":-0.328},
{"seg":"e2","kind":"fit","phase":0.42,"mag":-0.319},{"seg":"e2","kind":"fit","phase":0.45,"mag":-0.12},{"seg":"e2","kind":"fit","phase":0.475,"mag":0.06},{"seg":"e2","kind":"fit","phase":0.492,"mag":0.16},{"seg":"e2","kind":"fit","phase":0.5,"mag":0.183},{"seg":"e2","kind":"fit","phase":0.508,"mag":0.16},{"seg":"e2","kind":"fit","phase":0.525,"mag":0.06},{"seg":"e2","kind":"fit","phase":0.55,"mag":-0.12},{"seg":"e2","kind":"fit","phase":0.58,"mag":-0.316},
{"seg":"e3","kind":"fit","phase":0.928,"mag":-0.326},{"seg":"e3","kind":"fit","phase":0.95,"mag":-0.13},{"seg":"e3","kind":"fit","phase":0.97,"mag":0.06},{"seg":"e3","kind":"fit","phase":0.988,"mag":0.23},{"seg":"e3","kind":"fit","phase":1.0,"mag":0.315},{"seg":"e3","kind":"fit","phase":1.012,"mag":0.23},{"seg":"e3","kind":"fit","phase":1.03,"mag":0.06},{"seg":"e3","kind":"fit","phase":1.05,"mag":-0.13},{"seg":"e3","kind":"fit","phase":1.074,"mag":-0.328}
]
},
"columns": 2,
"spacing": {"row": 13, "column": 1},
"concat": [
{
 "width": 159, "height": 129, "title": "NSV 575 (ASAS)",
 "encoding": {
  "x": {"field": "phase", "type": "quantitative", "scale": {"domain": [-0.21, 1.2], "nice": false, "zero": false},
        "axis": {"values": [-0.2,-0.1,0,0.1,0.2,0.3,0.4,0.5,0.6,0.7,0.8,0.9,1,1.1,1.2], "labels": false, "title": null,
                 "tickSize": {"condition": {"test": "abs(datum.value*2-round(datum.value*2))<0.001", "value": -5}, "value": -3}}},
  "y": {"field": "mag", "type": "quantitative", "scale": {"domain": [14.468, 15.055], "reverse": true, "nice": false, "zero": false},
        "axis": {"values": [14.48,14.52,14.56,14.6,14.64,14.68,14.72,14.76,14.8,14.84,14.88,14.92,14.96,15.0,15.04],
                 "labelExpr": "abs(datum.value*5-round(datum.value*5))<0.001 ? format(datum.value,'.1f') : ''",
                 "tickSize": {"condition": {"test": "abs(datum.value*5-round(datum.value*5))<0.001", "value": -5}, "value": -3},
                 "title": "m", "titleAngle": 0, "titleFont": "Liberation Serif", "titleFontStyle": "italic", "titleFontSize": 10, "titleColor": "#111",
                 "titleX": -9, "titleY": 2, "titleAlign": "center", "titleBaseline": "middle"}}
 },
 "layer": [
  {"data": {"name": "p1pts"}, "mark": {"type": "circle", "size": 3, "color": "#6a6a6a", "opacity": 1, "clip": true}},
  {"data": {"name": "p1lines"}, "mark": {"type": "line", "color": "#000", "clip": true},
   "encoding": {"detail": {"field": "seg"},
     "strokeWidth": {"field": "kind", "type": "nominal", "scale": {"domain": ["thin","thick","ecl","dot","sec","fit"], "range": [0.7,2.2,0.8,0.9,1.3,0.9]}, "legend": null},
     "strokeDash": {"field": "kind", "type": "nominal", "scale": {"domain": ["thin","thick","ecl","dot","sec","fit"], "range": [[1,0],[1,0],[1,0],[1,1.8],[1,0],[1,0]]}, "legend": null}}}
 ]
},
{
 "width": 162, "height": 129, "title": "NSV 575 (TESS)",
 "encoding": {
  "x": {"field": "phase", "type": "quantitative", "scale": {"domain": [-0.22, 1.2], "nice": false, "zero": false},
        "axis": {"values": [-0.2,-0.1,0,0.1,0.2,0.3,0.4,0.5,0.6,0.7,0.8,0.9,1,1.1,1.2], "labels": false, "title": null,
                 "tickSize": {"condition": {"test": "abs(datum.value*2-round(datum.value*2))<0.001", "value": -5}, "value": -3}}},
  "y": {"field": "mag", "type": "quantitative", "scale": {"domain": [-0.193, 0.193], "reverse": true, "nice": false, "zero": false},
        "axis": {"values": [-0.18,-0.16,-0.14,-0.12,-0.1,-0.08,-0.06,-0.04,-0.02,0,0.02,0.04,0.06,0.08,0.1,0.12,0.14,0.16,0.18],
                 "labelExpr": "abs(datum.value*10-round(datum.value*10))<0.001 ? (abs(datum.value)<0.001 ? '0' : (datum.value<0 ? '-' : '') + format(abs(datum.value),'.1f')) : ''",
                 "tickSize": {"condition": {"test": "abs(datum.value*10-round(datum.value*10))<0.001", "value": -5}, "value": -3},
                 "title": null}}
 },
 "layer": [
  {"data": {"values": [{}]}, "mark": {"type": "rule", "color": "#c4c4c4", "strokeWidth": 1.5},
   "encoding": {"x": {"datum": -0.22, "type": "quantitative"}, "x2": {"datum": 1.2}, "y": {"datum": 0, "type": "quantitative"}}},
  {"data": {"name": "p2pts"}, "mark": {"type": "circle", "size": 3, "color": "#7a7a7a", "opacity": 1, "clip": true}},
  {"data": {"name": "p2lines"}, "mark": {"type": "line", "color": "#000", "clip": true},
   "encoding": {"detail": {"field": "seg"},
     "strokeWidth": {"field": "kind", "type": "nominal", "scale": {"domain": ["thin","thick","ecl","dot","sec","fit"], "range": [0.7,2.2,0.8,0.9,1.3,0.9]}, "legend": null},
     "strokeDash": {"field": "kind", "type": "nominal", "scale": {"domain": ["thin","thick","ecl","dot","sec","fit"], "range": [[1,0],[1,0],[1,0],[1,1.8],[1,0],[1,0]]}, "legend": null}}}
 ]
},
{
 "width": 159, "height": 128, "title": "NSV 489 (NSVS)",
 "encoding": {
  "x": {"field": "phase", "type": "quantitative", "scale": {"domain": [-0.21, 1.2], "nice": false, "zero": false},
        "axis": {"values": [-0.2,-0.1,0,0.1,0.2,0.3,0.4,0.5,0.6,0.7,0.8,0.9,1,1.1,1.2], "labels": false, "title": null,
                 "tickSize": {"condition": {"test": "abs(datum.value*2-round(datum.value*2))<0.001", "value": -5}, "value": -3}}},
  "y": {"field": "mag", "type": "quantitative", "scale": {"domain": [12.834, 13.423], "reverse": true, "nice": false, "zero": false},
        "axis": {"values": [12.84,12.88,12.92,12.96,13.0,13.04,13.08,13.12,13.16,13.2,13.24,13.28,13.32,13.36,13.4],
                 "labelExpr": "abs(datum.value*5-round(datum.value*5))<0.001 ? format(datum.value,'.1f') : ''",
                 "tickSize": {"condition": {"test": "abs(datum.value*5-round(datum.value*5))<0.001", "value": -5}, "value": -3},
                 "title": null}}
 },
 "layer": [
  {"data": {"name": "p3pts"}, "mark": {"type": "circle", "size": 3, "color": "#6a6a6a", "opacity": 1, "clip": true}},
  {"data": {"name": "p3lines"}, "mark": {"type": "line", "color": "#000", "clip": true},
   "encoding": {"detail": {"field": "seg"},
     "strokeWidth": {"field": "kind", "type": "nominal", "scale": {"domain": ["thin","thick","ecl","dot","sec","fit"], "range": [0.7,2.2,0.8,0.9,1.3,0.9]}, "legend": null},
     "strokeDash": {"field": "kind", "type": "nominal", "scale": {"domain": ["thin","thick","ecl","dot","sec","fit"], "range": [[1,0],[1,0],[1,0],[1,1.8],[1,0],[1,0]]}, "legend": null}}}
 ]
},
{
 "width": 162, "height": 128, "title": "NSV 489 (TESS)",
 "encoding": {
  "x": {"field": "phase", "type": "quantitative", "scale": {"domain": [-0.22, 1.2], "nice": false, "zero": false},
        "axis": {"values": [-0.2,-0.1,0,0.1,0.2,0.3,0.4,0.5,0.6,0.7,0.8,0.9,1,1.1,1.2], "labels": false, "title": null,
                 "tickSize": {"condition": {"test": "abs(datum.value*2-round(datum.value*2))<0.001", "value": -5}, "value": -3}}},
  "y": {"field": "mag", "type": "quantitative", "scale": {"domain": [-0.055, 0.655], "reverse": true, "nice": false, "zero": false},
        "axis": {"values": [-0.04,0,0.04,0.08,0.12,0.16,0.2,0.24,0.28,0.32,0.36,0.4,0.44,0.48,0.52,0.56,0.6,0.64],
                 "labelExpr": "abs(datum.value*5-round(datum.value*5))<0.001 ? (abs(datum.value)<0.001 ? '0' : format(datum.value,'.1f')) : ''",
                 "tickSize": {"condition": {"test": "abs(datum.value*5-round(datum.value*5))<0.001", "value": -5}, "value": -3},
                 "title": null}}
 },
 "layer": [
  {"data": {"values": [{}]}, "mark": {"type": "rule", "color": "#c4c4c4", "strokeWidth": 1.5},
   "encoding": {"x": {"datum": -0.22, "type": "quantitative"}, "x2": {"datum": 1.2}, "y": {"datum": 0, "type": "quantitative"}}},
  {"data": {"name": "p4pts"}, "mark": {"type": "circle", "size": 3, "color": "#7a7a7a", "opacity": 1, "clip": true}},
  {"data": {"name": "p4lines"}, "mark": {"type": "line", "color": "#000", "clip": true},
   "encoding": {"detail": {"field": "seg"},
     "strokeWidth": {"field": "kind", "type": "nominal", "scale": {"domain": ["thin","thick","ecl","dot","sec","fit"], "range": [0.7,2.2,0.8,0.9,1.3,0.9]}, "legend": null},
     "strokeDash": {"field": "kind", "type": "nominal", "scale": {"domain": ["thin","thick","ecl","dot","sec","fit"], "range": [[1,0],[1,0],[1,0],[1,1.8],[1,0],[1,0]]}, "legend": null}}}
 ]
},
{
 "width": 159, "height": 128, "title": "NSV 1884 (NSVS)",
 "encoding": {
  "x": {"field": "phase", "type": "quantitative", "scale": {"domain": [-0.21, 1.2], "nice": false, "zero": false},
        "axis": {"values": [-0.2,-0.1,0,0.1,0.2,0.3,0.4,0.5,0.6,0.7,0.8,0.9,1,1.1,1.2], "title": "Фаза",
                 "labelExpr": "abs(datum.value*2-round(datum.value*2))<0.001 ? (abs(datum.value)<0.001 ? '0' : format(datum.value,'.1f')) : ''",
                 "tickSize": {"condition": {"test": "abs(datum.value*2-round(datum.value*2))<0.001", "value": -5}, "value": -3}}},
  "y": {"field": "mag", "type": "quantitative", "scale": {"domain": [14.577, 15.17], "reverse": true, "nice": false, "zero": false},
        "axis": {"values": [14.6,14.64,14.68,14.72,14.76,14.8,14.84,14.88,14.92,14.96,15.0,15.04,15.08,15.12,15.16],
                 "labelExpr": "abs(datum.value*5-round(datum.value*5))<0.001 ? format(datum.value,'.1f') : ''",
                 "tickSize": {"condition": {"test": "abs(datum.value*5-round(datum.value*5))<0.001", "value": -5}, "value": -3},
                 "title": null}}
 },
 "layer": [
  {"data": {"name": "p5pts"}, "mark": {"type": "circle", "size": 3, "color": "#6a6a6a", "opacity": 1, "clip": true}},
  {"data": {"name": "p5lines"}, "mark": {"type": "line", "color": "#000", "clip": true, "interpolate": "monotone"},
   "encoding": {"detail": {"field": "seg"},
     "strokeWidth": {"field": "kind", "type": "nominal", "scale": {"domain": ["thin","thick","ecl","dot","sec","fit"], "range": [0.7,2.2,0.8,0.9,1.3,0.9]}, "legend": null},
     "strokeDash": {"field": "kind", "type": "nominal", "scale": {"domain": ["thin","thick","ecl","dot","sec","fit"], "range": [[1,0],[1,0],[1,0],[1,1.8],[1,0],[1,0]]}, "legend": null}}}
 ]
},
{
 "width": 162, "height": 128, "title": "NSV 1884 (TESS)",
 "encoding": {
  "x": {"field": "phase", "type": "quantitative", "scale": {"domain": [-0.22, 1.2], "nice": false, "zero": false},
        "axis": {"values": [-0.2,-0.1,0,0.1,0.2,0.3,0.4,0.5,0.6,0.7,0.8,0.9,1,1.1,1.2], "title": "Фаза",
                 "labelExpr": "abs(datum.value*2-round(datum.value*2))<0.001 ? (abs(datum.value)<0.001 ? '0' : format(datum.value,'.1f')) : ''",
                 "tickSize": {"condition": {"test": "abs(datum.value*2-round(datum.value*2))<0.001", "value": -5}, "value": -3}}},
  "y": {"field": "mag", "type": "quantitative", "scale": {"domain": [-0.39, 0.39], "reverse": true, "nice": false, "zero": false},
        "axis": {"values": [-0.36,-0.32,-0.28,-0.24,-0.2,-0.16,-0.12,-0.08,-0.04,0,0.04,0.08,0.12,0.16,0.2,0.24,0.28,0.32,0.36],
                 "labelExpr": "abs(datum.value*5-round(datum.value*5))<0.001 ? (abs(datum.value)<0.001 ? '0' : (datum.value<0 ? '-' : '') + format(abs(datum.value),'.1f')) : ''",
                 "tickSize": {"condition": {"test": "abs(datum.value*5-round(datum.value*5))<0.001", "value": -5}, "value": -3},
                 "title": null}}
 },
 "layer": [
  {"data": {"values": [{}]}, "mark": {"type": "rule", "color": "#c4c4c4", "strokeWidth": 1.5},
   "encoding": {"x": {"datum": -0.22, "type": "quantitative"}, "x2": {"datum": 1.2}, "y": {"datum": 0, "type": "quantitative"}}},
  {"data": {"name": "p6pts"}, "mark": {"type": "circle", "size": 3, "color": "#7a7a7a", "opacity": 1, "clip": true}},
  {"data": {"name": "p6lines"}, "mark": {"type": "line", "color": "#000", "clip": true, "interpolate": "monotone"},
   "encoding": {"detail": {"field": "seg"},
     "strokeWidth": {"field": "kind", "type": "nominal", "scale": {"domain": ["thin","thick","ecl","dot","sec","fit"], "range": [0.7,2.2,0.8,0.9,1.3,0.9]}, "legend": null},
     "strokeDash": {"field": "kind", "type": "nominal", "scale": {"domain": ["thin","thick","ecl","dot","sec","fit"], "range": [[1,0],[1,0],[1,0],[1,1.8],[1,0],[1,0]]}, "legend": null}}}
 ]
}
]
}
